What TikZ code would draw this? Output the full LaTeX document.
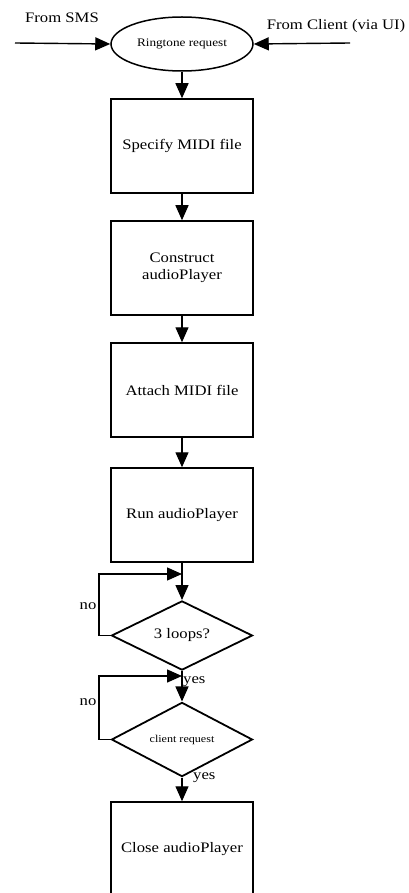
\documentclass[tikz,border=0pt]{standalone}
\usepackage{fontspec}
\setmainfont{Liberation Serif}[FakeStretch=1.15]
\usetikzlibrary{shapes.geometric,arrows.meta}
\tikzset{
  procbox/.style={draw, line width=1.5pt, minimum width=142pt, minimum height=94pt, inner sep=0pt, align=center, font=\fontsize{14.5}{17}\selectfont},
  decision/.style={draw, diamond, line width=1.8pt, minimum width=141pt, minimum height=55pt, inner sep=0pt},
  flow/.style={line width=1.4pt, -{Triangle[length=15pt,width=13pt]}},
  lbl/.style={font=\fontsize{14.5}{17}\selectfont, inner sep=0pt},
}
\begin{document}
\begin{tikzpicture}[x=1pt,y=-1pt]
\clip (0,0) rectangle (409,893);
\fill[white] (0,0) rectangle (409,893);
% start
\node[draw, ellipse, line width=1.5pt, minimum width=142pt, minimum height=54pt, inner sep=0pt, font=\fontsize{11.5}{13}\selectfont] (req) at (182,44) {Ringtone request};
\coordinate (sms) at (15,43);
\coordinate (cli) at (350,43);
\node[lbl] (smsl) at (62,18) {From SMS};
\node[lbl] (clil) at (336,26) {From Client (via UI)};
\draw[flow] (sms) -- (req.west);
\draw[flow] (cli) -- (req.east);
% boxes
\node[procbox] (b1) at (182,146) {Specify MIDI file};
\node[procbox] (b2) at (182,268) {Construct\\audioPlayer};
\node[procbox] (b3) at (182,390) {Attach MIDI file};
\node[procbox] (b4) at (182,515) {Run audioPlayer};
\node[decision, font=\fontsize{14.5}{17}\selectfont] (d1) at (182,635.5) {3 loops?};
\node[decision, font=\fontsize{10.5}{12}\selectfont] (d2) at (182,739.5) {client request};
\node[procbox] (b5) at (182,849) {Close audioPlayer};
% arrows
\draw[flow] (req.south) -- (b1.north);
\draw[flow] (b1) -- (b2);
\draw[flow] (b2) -- (b3);
\draw[flow] (b3) -- (b4);
\draw[flow] (b4) -- (d1.north);
\draw[flow] (d1.south) -- (d2.north);
\draw[flow] (d2.south) -- (b5.north);
% loops
\coordinate (j1) at (182,574);
\coordinate (j2) at (182,676);
\draw[flow] (d1.west) -- (99,635.5) -- (99,574) -- (j1);
\draw[flow] (d2.west) -- (99,739.5) -- (99,676) -- (j2);
% labels
\node[lbl] (no1) at (88,606) {no};
\node[lbl] (no2) at (88,702) {no};
\node[lbl, anchor=west] (yes1) at (183,682) {yes};
\node[lbl, anchor=west] (yes2) at (193,778) {yes};
\end{tikzpicture}
\end{document}
